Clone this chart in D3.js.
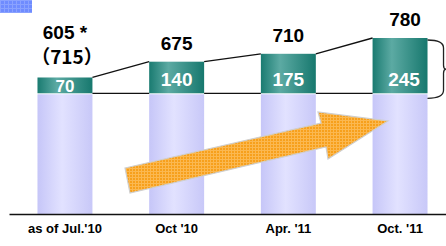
<!DOCTYPE html>
<html>
<head>
<meta charset="utf-8">
<script src="https://cdn.jsdelivr.net/npm/d3@7"></script>
<style>
  body { margin: 0; background: #fff; }
  svg { display: block; }
</style>
</head>
<body>
<svg id="chart" width="446" height="246"></svg>
<script>
// data
var categories = ["as of Jul.'10", "Oct '10", "Apr. '11", "Oct. '11"];
var baseValues = [535, 535, 535, 535];
var addValues = [70, 140, 175, 245];
var totalLabels = ["605 *", "675", "710", "780"];
var noteLabels = ["\uff08715\uff09", "", "", ""];

var data = categories.map(function (c, i) {
    return {
        cat: c,
        base: baseValues[i],
        add: addValues[i],
        total: baseValues[i] + addValues[i],
        label: totalLabels[i],
        note: noteLabels[i]
    };
});

var svg = d3.select("#chart");
var defs = svg.append("defs");

// gradients for the bars
var gBase = defs.append("linearGradient").attr("id", "gBase");
gBase.append("stop").attr("offset", "0%").attr("stop-color", "#c6c6f8");
gBase.append("stop").attr("offset", "45%").attr("stop-color", "#e2e2ff");
gBase.append("stop").attr("offset", "100%").attr("stop-color", "#c8c8f8");

var gAdd = defs.append("linearGradient").attr("id", "gAdd");
gAdd.append("stop").attr("offset", "0%").attr("stop-color", "#1a7b71");
gAdd.append("stop").attr("offset", "35%").attr("stop-color", "#5caaa3");
gAdd.append("stop").attr("offset", "100%").attr("stop-color", "#17786e");

// patterns
var pBlue = defs.append("pattern").attr("id", "pBlue")
    .attr("width", 4).attr("height", 4).attr("patternUnits", "userSpaceOnUse");
pBlue.append("rect").attr("width", 4).attr("height", 4).attr("fill", "#6f8cff");
pBlue.append("rect").attr("width", 4).attr("height", 1).attr("fill", "#8aa2ff");
pBlue.append("rect").attr("width", 1).attr("height", 4).attr("fill", "#8aa2ff");

var pOrange = defs.append("pattern").attr("id", "pOrange")
    .attr("width", 3).attr("height", 3).attr("patternUnits", "userSpaceOnUse");
pOrange.append("rect").attr("width", 3).attr("height", 3).attr("fill", "#f7a01c");
pOrange.append("rect").attr("width", 3).attr("height", 1).attr("fill", "#fbb850");
pOrange.append("rect").attr("width", 1).attr("height", 3).attr("fill", "#fbb850");

var x = d3.scaleBand()
    .domain(categories)
    .range([9, 456])
    .paddingInner(0.508)
    .paddingOuter(0.255);

var y = d3.scaleLinear()
    .domain([0, 780])
    .range([214, 38]);

// blue patch at top left
svg.append("rect")
    .attr("x", 0).attr("y", 0)
    .attr("width", 32).attr("height", 13)
    .attr("fill", "url(#pBlue)");

// lavender base bars
svg.selectAll("rect.base").data(data).enter().append("rect")
    .attr("class", "base")
    .attr("x", function (d) { return x(d.cat); })
    .attr("y", function (d) { return y(d.base) + 1; })
    .attr("width", x.bandwidth())
    .attr("height", function (d) { return y(0) - y(d.base) - 1; })
    .attr("fill", "url(#gBase)");

// teal increments
svg.selectAll("rect.add").data(data).enter().append("rect")
    .attr("class", "add")
    .attr("x", function (d) { return x(d.cat); })
    .attr("y", function (d) { return y(d.total); })
    .attr("width", x.bandwidth())
    .attr("height", function (d) { return y(d.base) - y(d.total); })
    .attr("fill", "url(#gAdd)");

// connector lines between bars
var links = d3.pairs(data);
svg.selectAll("line.top").data(links).enter().append("line")
    .attr("x1", function (p) { return x(p[0].cat) + x.bandwidth(); })
    .attr("y1", function (p) { return y(p[0].total); })
    .attr("x2", function (p) { return x(p[1].cat); })
    .attr("y2", function (p) { return y(p[1].total); })
    .attr("stroke", "#111").attr("stroke-width", 1.3);

svg.selectAll("line.mid").data(links).enter().append("line")
    .attr("x1", function (p) { return x(p[0].cat) + x.bandwidth(); })
    .attr("y1", function (p) { return y(p[0].base); })
    .attr("x2", function (p) { return x(p[1].cat); })
    .attr("y2", function (p) { return y(p[1].base); })
    .attr("stroke", "#111").attr("stroke-width", 1.3);

// brace on the right of the last bar
var last = data[data.length - 1];
var bx = x(last.cat) + x.bandwidth();
var bTop = y(last.total) + 2, bBot = y(last.base) + 5, bMid = (bTop + bBot) / 2;
svg.append("path")
    .attr("d", "M" + bx + "," + bTop +
        " Q" + (bx + 16) + "," + bTop + " " + (bx + 16) + "," + (bTop + 8) +
        " L" + (bx + 16) + "," + (bMid - 4) +
        " Q" + (bx + 16) + "," + bMid + " " + (bx + 19) + "," + bMid +
        " Q" + (bx + 16) + "," + bMid + " " + (bx + 16) + "," + (bMid + 4) +
        " L" + (bx + 16) + "," + (bBot - 8) +
        " Q" + (bx + 16) + "," + bBot + " " + bx + "," + bBot)
    .attr("fill", "none").attr("stroke", "#222").attr("stroke-width", 1.3);

// orange growth arrow
var arrow = [[125, 168], [321, 123], [318, 112], [388, 121], [328, 159], [326, 147], [130, 193]];
svg.append("path")
    .attr("d", d3.line()(arrow) + "Z")
    .attr("fill", "url(#pOrange)")
    .attr("stroke", "#cfcfcf").attr("stroke-width", 1.2);

// values inside teal segments
svg.selectAll("text.add").data(data).enter().append("text")
    .attr("x", function (d, i) { return x(d.cat) + x.bandwidth() / 2 + (i == 3 ? 4 : 0); })
    .attr("y", function (d) { return (y(d.base) - y(d.total)) < 20 ? y(d.base) - 1.5 : y(d.base) - 7; })
    .attr("text-anchor", "middle")
    .attr("fill", "#fff")
    .style("font", "bold 19px 'Liberation Sans', Arial, sans-serif")
    .style("font-size", function (d) { return (y(d.base) - y(d.total)) < 20 ? "17px" : "19px"; })
    .text(function (d) { return d.add; });

// totals above bars
svg.selectAll("text.total").data(data).enter().append("text")
    .attr("x", function (d, i) { return x(d.cat) + x.bandwidth() / 2 + (i == 3 ? 5 : 0); })
    .attr("y", function (d) { return y(d.total) - (d.note ? 38 : 12); })
    .attr("text-anchor", "middle")
    .attr("fill", "#000")
    .style("font", "bold 19px 'Liberation Sans', Arial, sans-serif")
    .text(function (d) { return d.label; });

svg.selectAll("text.note").data(data.filter(function (d) { return d.note; })).enter().append("text")
    .attr("x", function (d) { return x(d.cat) + x.bandwidth() / 2 + 2; })
    .attr("y", function (d) { return y(d.total) - 13; })
    .attr("text-anchor", "middle")
    .attr("fill", "#000")
    .style("font", "bold 19px 'Noto Sans CJK JP', 'Liberation Sans', sans-serif")
    .text(function (d) { return d.note; });

// category axis
var axis = svg.append("g")
    .attr("transform", "translate(0," + y(0) + ")")
    .call(d3.axisBottom(x).tickSize(0).tickPadding(10));
axis.select(".domain").attr("stroke", "#111").attr("stroke-width", 1.5);
axis.selectAll("text")
    .attr("fill", "#000")
    .style("font", "bold 13px 'Liberation Sans', Arial, sans-serif");
</script>
</body>
</html>
